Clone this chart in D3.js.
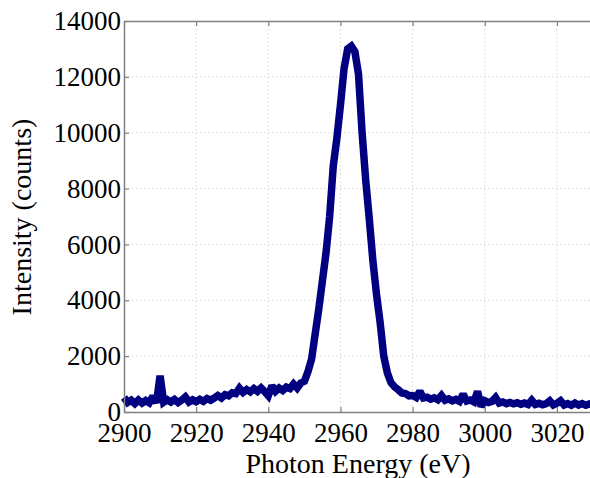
<!DOCTYPE html>
<html>
<head>
<meta charset="utf-8">
<script src="https://cdn.jsdelivr.net/npm/d3@7"></script>
<style>
  body { margin: 0; background: #fff; }
  svg { display: block; }
  text { font-family: "Liberation Serif", "DejaVu Serif", serif; fill: #000; }
</style>
</head>
<body>
<div id="chart"></div>
<script>
// photon energy (eV), one reading per eV
const energyStart = 2900
const intensity = [
  520, 340, 420, 300, 430, 320, 410, 330, 560, 330,
  1300, 350, 440, 360, 450, 340, 430, 540, 360, 440,
  370, 450, 380, 480, 420, 500, 590, 500, 620, 580,
  690, 660, 850, 700, 800, 720, 840, 740, 860, 730,
  580, 940, 740, 860, 770, 890, 840, 1000, 860, 1040,
  1100, 1450, 1900, 2800, 3700, 4700, 5700, 7000, 8800, 9800,
  11000, 12300, 13000, 13100, 12900, 12100, 10000, 8300, 6900, 5400,
  4200, 3200, 2000, 1400, 1050, 900, 800, 680, 660, 580,
  590, 520, 740, 500, 530, 460, 510, 440, 590, 420,
  470, 400, 450, 380, 640, 390, 430, 360, 740, 200,
  400, 340, 380, 520, 320, 360, 300, 340, 290, 330,
  280, 320, 270, 420, 270, 310, 260, 300, 400, 250,
  310, 400, 250, 300, 240, 320, 250, 300, 240, 290,
  250
]
const xTicks = [2900, 2920, 2940, 2960, 2980, 3000, 3020]
const yTicks = [0, 2000, 4000, 6000, 8000, 10000, 12000, 14000]

const data = intensity.map((v, i) => ({ e: energyStart + i, v: v }))

const W = 590, H = 478
const margin = { top: 21, right: -3, bottom: 66, left: 124 }
const width = W - margin.left - margin.right,
    height = H - margin.top - margin.bottom

const svg = d3.select("#chart").append("svg")
    .attr("width", W)
    .attr("height", H)

const g = svg.append("g")
    .attr("transform", "translate(" + margin.left + "," + margin.top + ")")

const x = d3.scaleLinear().domain([2900, 3030]).range([0, width])
const y = d3.scaleLinear().domain([0, 14000]).range([height, 0])

// grid
g.append("g").selectAll("line").data(xTicks.slice(1)).join("line")
    .attr("x1", d => x(d)).attr("x2", d => x(d))
    .attr("y1", 0).attr("y2", height)
    .attr("stroke", "#d8d8d8").attr("stroke-dasharray", "1.5,2.5")
g.append("g").selectAll("line").data(yTicks.slice(1, -1)).join("line")
    .attr("x1", 0).attr("x2", width)
    .attr("y1", d => y(d)).attr("y2", d => y(d))
    .attr("stroke", "#d8d8d8").attr("stroke-dasharray", "1.5,2.5")

// the trace
g.append("path")
    .datum(data)
    .attr("fill", "none")
    .attr("stroke", "#000080")
    .attr("stroke-width", 7.5)
    .attr("stroke-linejoin", "miter")
    .attr("stroke-miterlimit", 2)
    .attr("d", d3.line().x(d => x(d.e)).y(d => y(d.v)))

// axes
const axisColor = "#808080"
function styleAxis(sel) {
    sel.select(".domain").attr("stroke", axisColor).attr("stroke-width", 1.5)
    sel.selectAll(".tick line").attr("stroke", axisColor).attr("stroke-width", 1.2)
    sel.selectAll(".tick text").style("font-size", "27px")
        .style("font-family", "'Liberation Serif', serif").attr("fill", "#000")
}

g.append("g")
    .attr("transform", "translate(0," + height + ")")
    .call(d3.axisBottom(x).tickValues(xTicks).tickFormat(d3.format("d"))
        .tickSizeInner(-5).tickSizeOuter(0).tickPadding(11))
    .call(styleAxis)

g.append("g")
    .call(d3.axisTop(x).tickValues(xTicks).tickFormat("")
        .tickSizeInner(-5).tickSizeOuter(0))
    .call(styleAxis)

g.append("g")
    .call(d3.axisLeft(y).tickValues(yTicks).tickFormat(d3.format("d"))
        .tickSizeInner(-5).tickSizeOuter(0).tickPadding(3))
    .call(styleAxis)

// titles
svg.append("text")
    .attr("x", 358)
    .attr("y", 473)
    .attr("text-anchor", "middle")
    .style("font-size", "28px")
    .text("Photon Energy (eV)")

svg.append("text")
    .attr("transform", "translate(31,217) rotate(-90)")
    .attr("text-anchor", "middle")
    .style("font-size", "28px")
    .text("Intensity (counts)")
</script>
</body>
</html>
